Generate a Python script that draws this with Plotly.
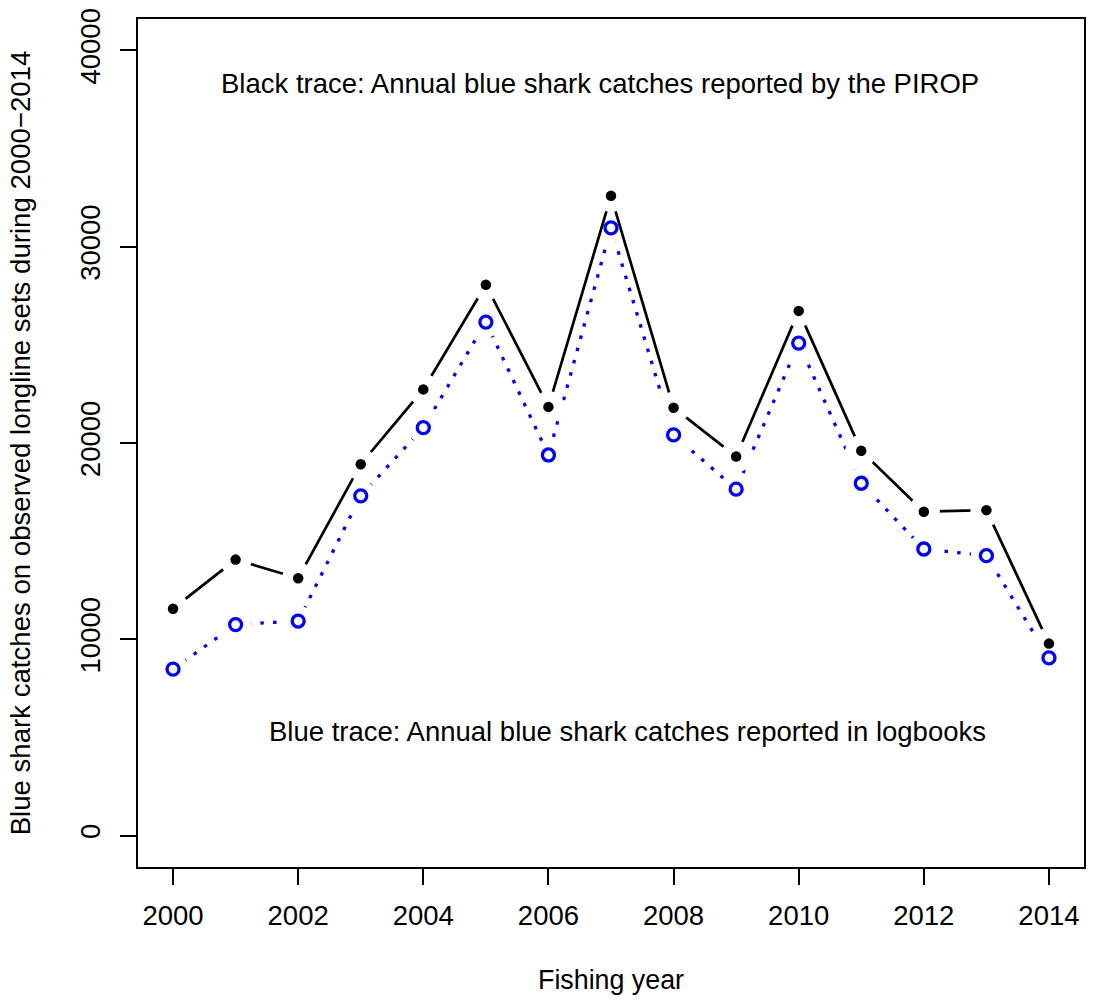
import plotly.graph_objects as go

# ---- data ----
years = [2000, 2001, 2002, 2003, 2004, 2005, 2006, 2007, 2008, 2009, 2010, 2011, 2012, 2013, 2014]
pirop_catch = [11560, 14060, 13110, 18920, 22730, 28060, 21840, 32590, 21800, 19310, 26730, 19600, 16500, 16580, 9780]
logbook_catch = [8480, 10750, 10930, 17310, 20780, 26160, 19390, 30960, 20410, 17650, 25090, 17950, 14600, 14260, 9050]
x_ticks = [2000, 2002, 2004, 2006, 2008, 2010, 2012, 2014]
y_ticks = [0, 10000, 20000, 30000, 40000]
y_tick_text = ["0", "10000", "20000", "30000", "40000"]

x_title = "Fishing year"
y_title = "Blue shark catches on observed longline sets during 2000\u22122014"
black_note = "Black trace: Annual blue shark catches reported by the PIROP"
blue_note = "Blue trace: Annual blue shark catches reported in logbooks"

FONT = "Liberation Sans, Arial, Helvetica, sans-serif"
FS_TICK = 27.5
FS_NOTE = 27.5
FS_XT = 26.8
FS_YT = 27.6
BLUE = "#0000FF"

fig = go.Figure()

# blue dotted line with gaps around points (R type="b")
fig.add_trace(go.Scatter(
    x=years, y=logbook_catch, mode="lines+markers",
    line=dict(color=BLUE, width=3.3, dash="3.5px,9.2px"),
    marker=dict(color="white", size=31, line=dict(width=0)),
    hoverinfo="skip", showlegend=False))

# black solid line with gaps around points
fig.add_trace(go.Scatter(
    x=years, y=pirop_catch, mode="lines+markers",
    line=dict(color="black", width=2.7),
    marker=dict(color="white", size=32, line=dict(width=0)),
    hoverinfo="skip", showlegend=False))

# blue open circles
fig.add_trace(go.Scatter(
    x=years, y=logbook_catch, mode="markers",
    marker=dict(symbol="circle-open", color=BLUE, size=12, line=dict(width=3.3, color=BLUE)),
    showlegend=False, name="Logbooks"))

# black filled dots
fig.add_trace(go.Scatter(
    x=years, y=pirop_catch, mode="markers",
    marker=dict(symbol="circle", color="black", size=10.5, line=dict(width=0)),
    showlegend=False, name="PIROP"))

fig.add_annotation(x=2006.82, y=38300, xref="x", yref="y", text=black_note,
                   showarrow=False, font=dict(family=FONT, size=FS_NOTE, color="black"),
                   xanchor="center", yanchor="middle")
fig.add_annotation(x=2007.27, y=5300, xref="x", yref="y", text=blue_note,
                   showarrow=False, font=dict(family=FONT, size=FS_NOTE, color="black"),
                   xanchor="center", yanchor="middle")

axis_common = dict(
    showgrid=False, zeroline=False,
    showline=True, linecolor="black", linewidth=2, mirror=True,
    ticks="outside", ticklen=16, tickwidth=2, tickcolor="black",
    tickfont=dict(family=FONT, size=FS_TICK, color="black"),
)

fig.update_layout(
    width=1094, height=1008, autosize=False,
    margin=dict(l=138, r=8, t=16, b=141),
    paper_bgcolor="white", plot_bgcolor="white",
    font=dict(family=FONT, size=FS_TICK, color="black"),
    xaxis=dict(range=[1999.44, 2014.56], tickvals=x_ticks,
               title=dict(text=x_title, font=dict(family=FONT, size=FS_XT, color="black"), standoff=40),
               ticklabelstandoff=7,
               **axis_common),
    yaxis=dict(range=[-1600, 41600], tickvals=y_ticks, ticktext=y_tick_text, tickangle=-90,
               title=dict(text=y_title, font=dict(family=FONT, size=FS_YT, color="black"), standoff=36),
               ticklabelstandoff=9,
               **axis_common),
)

fig.write_html("out.html")
